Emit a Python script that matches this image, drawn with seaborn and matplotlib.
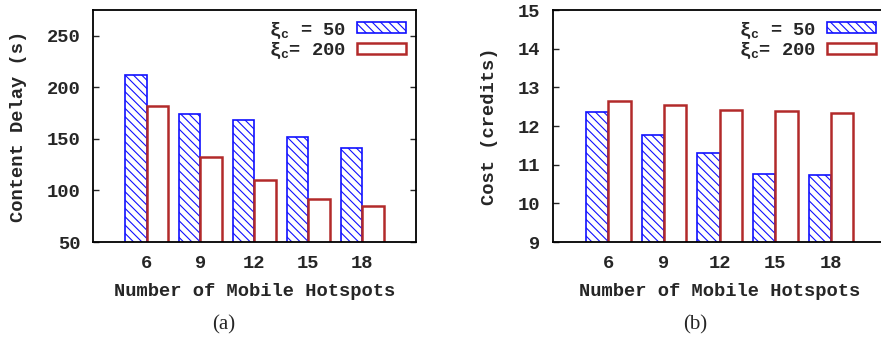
import pandas as pd
import numpy as np
import matplotlib
matplotlib.use('Agg')
import matplotlib.pyplot as plt
import seaborn as sns
from matplotlib.patches import Patch

# data
hotspots = ['6', '9', '12', '15', '18']
delay_50 = [212, 174, 168, 152, 141]
delay_200 = [182, 132, 110, 92, 85]
cost_50 = [12.36, 11.76, 11.29, 10.75, 10.74]
cost_200 = [12.64, 12.54, 12.41, 12.39, 12.34]
series = ['ξ$_{\\mathbf{c}}$ = 50', 'ξ$_{\\mathbf{c}}$= 200']

sns.set_style('ticks')
plt.rcParams['font.family'] = ['Liberation Mono', 'DejaVu Sans']
plt.rcParams['font.weight'] = 'bold'
plt.rcParams['hatch.linewidth'] = 0.8
plt.rcParams['mathtext.fontset'] = 'custom'
plt.rcParams['mathtext.bf'] = 'Liberation Mono:bold'
plt.rcParams['mathtext.rm'] = 'Liberation Mono:bold'

blue = '#1010ff'
red = '#b22a2a'
fs = 13.5


def make_df(a, b):
    return pd.DataFrame({
        'x': hotspots * 2,
        'y': list(a) + list(b),
        's': [series[0]] * 5 + [series[1]] * 5,
    })


def draw(ax, df, ylim, yticks, ylabel, right_ticks):
    sns.barplot(data=df, x='x', y='y', hue='s', order=hotspots, hue_order=series,
                ax=ax, legend=False, width=0.8, palette=['white', 'white'])
    for bar in ax.containers[0]:
        bar.set_facecolor('white')
        bar.set_edgecolor(blue)
        bar.set_hatch('\\\\\\\\')
        bar.set_linewidth(1.2)
    for bar in ax.containers[1]:
        bar.set_facecolor('white')
        bar.set_edgecolor(red)
        bar.set_linewidth(1.8)
    ax.set_xlim(-1, 5)
    ax.set_ylim(*ylim)
    ax.set_yticks(yticks)
    ax.tick_params(axis='y', direction='in', length=4, width=1, pad=9, labelsize=fs,
                   right=right_ticks)
    ax.tick_params(axis='x', length=0, pad=9, labelsize=fs)
    for lab in ax.get_xticklabels() + ax.get_yticklabels():
        lab.set_fontweight('bold')
    ax.set_xlabel('Number of Mobile Hotspots', fontsize=fs, fontweight='bold', labelpad=8)
    ax.set_ylabel(ylabel, fontsize=fs, fontweight='bold', labelpad=14)
    for sp in ax.spines.values():
        sp.set_linewidth(1.3)
        sp.set_color('black')
    handles = [Patch(facecolor='white', edgecolor=blue, hatch='\\\\\\\\', linewidth=1.2),
               Patch(facecolor='white', edgecolor=red, linewidth=1.8)]
    ax.legend(handles, series, loc='upper right', frameon=False, markerfirst=False,
              handlelength=2.6, handleheight=0.5, labelspacing=0.0,
              borderaxespad=0.5, borderpad=0.05, handletextpad=0.6,
              prop={'family': ['Liberation Mono', 'DejaVu Sans'], 'weight': 'bold', 'size': fs})


fig = plt.figure(figsize=(8.81, 3.39), dpi=100)
ax1 = fig.add_axes([0.1052, 0.2861, 0.367, 0.6844])
ax2 = fig.add_axes([0.6273, 0.2861, 0.379, 0.6844])

draw(ax1, make_df(delay_50, delay_200), (50, 275), [50, 100, 150, 200, 250],
     'Content Delay (s)', True)
draw(ax2, make_df(cost_50, cost_200), (9, 15), [9, 10, 11, 12, 13, 14, 15],
     'Cost (credits)', False)

fig.text(0.254, 0.043, '(a)', ha='center', va='center', fontsize=15,
         family='Liberation Serif', fontweight='normal')
fig.text(0.789, 0.043, '(b)', ha='center', va='center', fontsize=15,
         family='Liberation Serif', fontweight='normal')

fig.savefig('out.png', dpi=100)
